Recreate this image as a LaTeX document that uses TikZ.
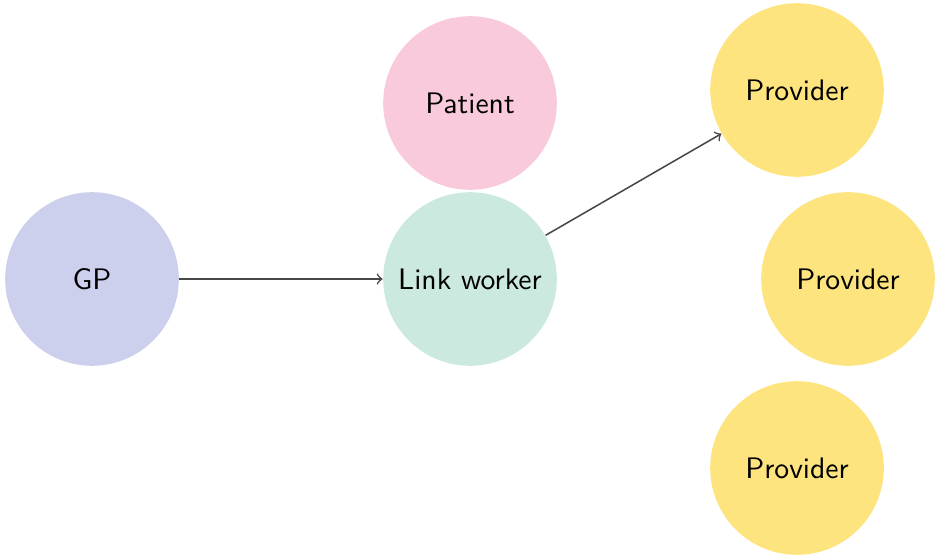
\documentclass[tikz,border=0pt]{standalone}
\usepackage{tikz}
\definecolor{gpblue}{HTML}{CDD0EC}
\definecolor{patpink}{HTML}{F9CADB}
\definecolor{linkmint}{HTML}{CCE9DF}
\definecolor{provyellow}{HTML}{FDE47F}
\definecolor{arrowgray}{HTML}{484848}
\begin{document}
\begin{tikzpicture}[x=0.3571pt,y=-0.3571pt,
  actor/.style={circle,minimum size=62pt,inner sep=0pt,font=\sffamily\fontsize{10.6}{12}\selectfont},
  flow/.style={->,draw=arrowgray,line width=0.55pt}]
\useasboundingbox (0,0) rectangle (935,557);
\node[actor,fill=gpblue] (gp) at (92,279) {GP};
\node[actor,fill=linkmint] (lw) at (470,279) {Link worker};
\node[actor,fill=patpink] (pat) at (470,103) {Patient};
\node[actor,fill=provyellow] (p1) at (797,90) {Provider};
\node[actor,fill=provyellow] (p2) at (848,279) {Provider};
\node[actor,fill=provyellow] (p3) at (797,468) {Provider};
\draw[flow] (gp) -- (lw);
\draw[flow] (lw) -- (p1);
\end{tikzpicture}
\end{document}
